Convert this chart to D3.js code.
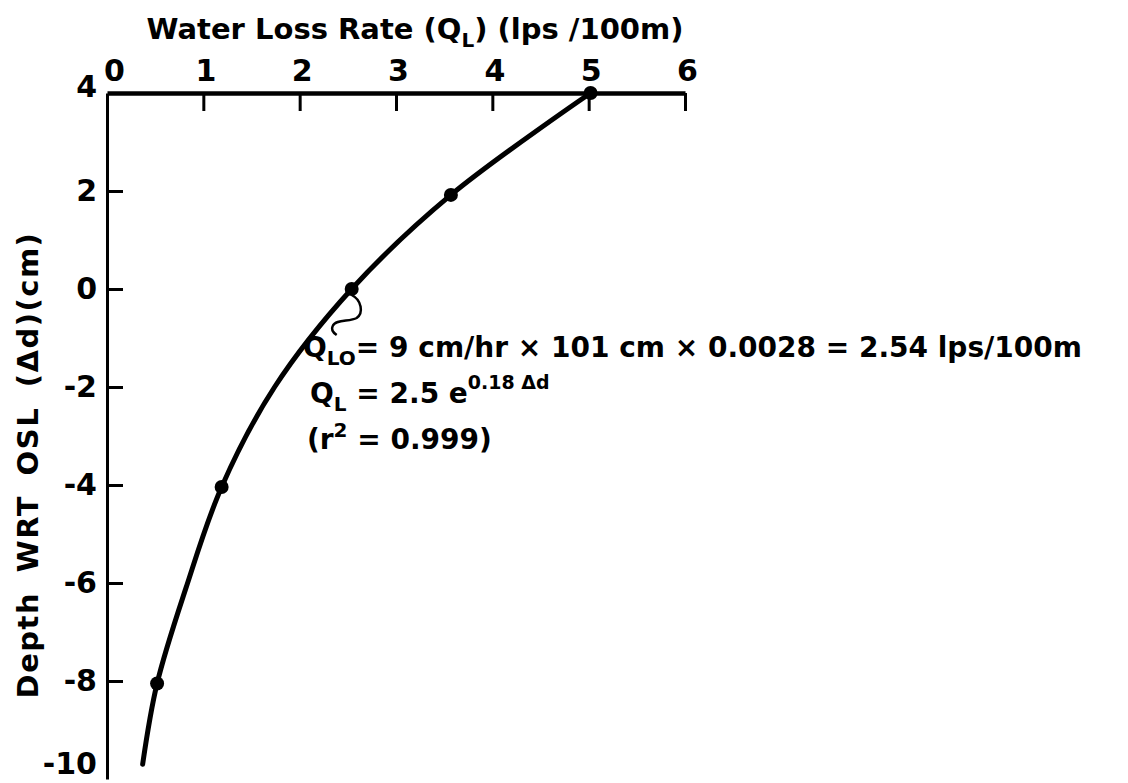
<!DOCTYPE html>
<html>
<head>
<meta charset="utf-8">
<script src="https://cdn.jsdelivr.net/npm/d3@7"></script>
<style>
  html, body { margin: 0; padding: 0; background: #fff; }
  svg { display: block; }
  text { font-family: "DejaVu Sans", sans-serif; fill: #000; }
</style>
</head>
<body>
<svg id="chart" width="1128" height="783"></svg>
<script>
// Axis ticks
const qTicks = [0, 1, 2, 3, 4, 5, 6];
const depthTicks = [4, 2, 0, -2, -4, -6, -8, -10];

// Measured water loss rate (lps/100m) at each depth relative to OSL (cm)
const obsQ = [5.02, 3.57, 2.54, 1.19, 0.52];
const obsDepth = [4, 1.92, 0, -4.04, -8.05];

// Fitted curve Q_L = 2.5 e^(0.18 Δd), traced through the observations
const curveQ = [5.02, 3.57, 2.54, 1.74, 1.19, 0.82, 0.52, 0.37];
const curveDepth = [4, 1.92, 0, -2.0, -4.04, -6.1, -8.05, -9.7];

const svg = d3.select("#chart");
svg.append("rect").attr("width", 1128).attr("height", 783).attr("fill", "#fff");

const x = d3.scaleLinear().domain([0, 6]).range([107, 685]);
const y = d3.scaleLinear().domain([-10, 4]).range([779, 93]);

// Top axis (Q_L)
const xAxis = d3.axisTop(x)
  .tickValues(qTicks)
  .tickSizeInner(-18)
  .tickSizeOuter(0)
  .tickPadding(12)
  .tickFormat(d3.format("d"));
const gx = svg.append("g").attr("transform", `translate(0,${y(4)})`).call(xAxis);
gx.select(".domain").attr("stroke", "#000").attr("stroke-width", 4.5);
gx.selectAll(".tick line").attr("stroke", "#000").attr("stroke-width", 3)
  .filter(d => d === 0).remove();
gx.selectAll(".tick text")
  .attr("font-size", 30)
  .attr("font-weight", "bold")
  .attr("font-family", "DejaVu Sans, sans-serif")
  .attr("dx", d => d === 0 ? 7 : 2);

// Left axis (depth)
const yAxis = d3.axisLeft(y)
  .tickValues(depthTicks)
  .tickSizeInner(-16)
  .tickSizeOuter(0)
  .tickPadding(10)
  .tickFormat(d => d3.format("d")(d).replace("\u2212", "-"));
const gy = svg.append("g").attr("transform", `translate(${x(0)},0)`).call(yAxis);
gy.select(".domain").attr("stroke", "#000").attr("stroke-width", 3);
gy.selectAll(".tick line").attr("stroke", "#000").attr("stroke-width", 3)
  .filter(d => d === 4 || d === -10).remove();
gy.selectAll(".tick text")
  .attr("font-size", 30)
  .attr("font-weight", "bold")
  .attr("font-family", "DejaVu Sans, sans-serif")
  .attr("dy", d => d === 4 ? "0.1em" : d === -10 ? "-0.2em" : "0.32em");

// Axis titles
const xTitle = svg.append("text")
  .attr("x", 415).attr("y", 39)
  .attr("text-anchor", "middle")
  .attr("font-size", 29).attr("font-weight", "bold");
xTitle.append("tspan").text("Water Loss Rate (Q");
xTitle.append("tspan").attr("font-size", 20).attr("dy", 8).text("L");
xTitle.append("tspan").attr("dy", -8).text(") (lps /100m)");

svg.append("text")
  .attr("transform", "translate(38,465) rotate(-90)")
  .attr("text-anchor", "middle")
  .attr("font-size", 29).attr("font-weight", "bold")
  .attr("letter-spacing", 1.5)
  .attr("word-spacing", 8)
  .text("Depth WRT OSL (\u0394d)(cm)");

// Fitted curve
const line = d3.line()
  .x((d, i) => x(curveQ[i]))
  .y((d, i) => y(curveDepth[i]))
  .curve(d3.curveCatmullRom.alpha(0.5));
svg.append("path")
  .datum(curveQ)
  .attr("d", line)
  .attr("fill", "none")
  .attr("stroke", "#000")
  .attr("stroke-width", 5)
  .attr("stroke-linecap", "round");

// Observations
svg.selectAll("circle.obs")
  .data(obsQ)
  .join("circle")
  .attr("class", "obs")
  .attr("cx", d => x(d))
  .attr("cy", (d, i) => y(obsDepth[i]))
  .attr("r", 7)
  .attr("fill", "#000");

// Leader from the Q_LO point to its equation
const lx = x(obsQ[2]), ly = y(obsDepth[2]);
const leader = d3.path();
leader.moveTo(lx, ly + 6);
leader.bezierCurveTo(lx + 10, ly + 11, lx + 12, ly + 24, lx + 5, ly + 29);
leader.bezierCurveTo(lx - 2, ly + 33, lx - 16, ly + 30, lx - 19, ly + 37);
leader.bezierCurveTo(lx - 21, ly + 41, lx - 18, ly + 44, lx - 15, ly + 46);
svg.append("path")
  .attr("d", leader.toString())
  .attr("fill", "none")
  .attr("stroke", "#000")
  .attr("stroke-width", 2.5);

// Equation block
const eq = svg.append("g").attr("font-size", 28).attr("font-weight", "bold");

const r1 = eq.append("text").attr("x", 303).attr("y", 357);
r1.append("tspan").text("Q");
r1.append("tspan").attr("font-size", 20).attr("dy", 8).text("LO");
r1.append("tspan").attr("dy", -8).text("= 9 cm/hr \u00D7 101 cm \u00D7 0.0028 = 2.54 lps/100m");

const r2 = eq.append("text").attr("x", 310).attr("y", 403);
r2.append("tspan").text("Q");
r2.append("tspan").attr("font-size", 20).attr("dy", 8).text("L");
r2.append("tspan").attr("dy", -8).text(" = 2.5 e");
r2.append("tspan").attr("font-size", 19).attr("dy", -14).text("0.18 \u0394d");

const r3 = eq.append("text").attr("x", 307).attr("y", 449);
r3.append("tspan").text("(r");
r3.append("tspan").attr("font-size", 20).attr("dy", -12).text("2");
r3.append("tspan").attr("dy", 12).text(" = 0.999)");
</script>
</body>
</html>
